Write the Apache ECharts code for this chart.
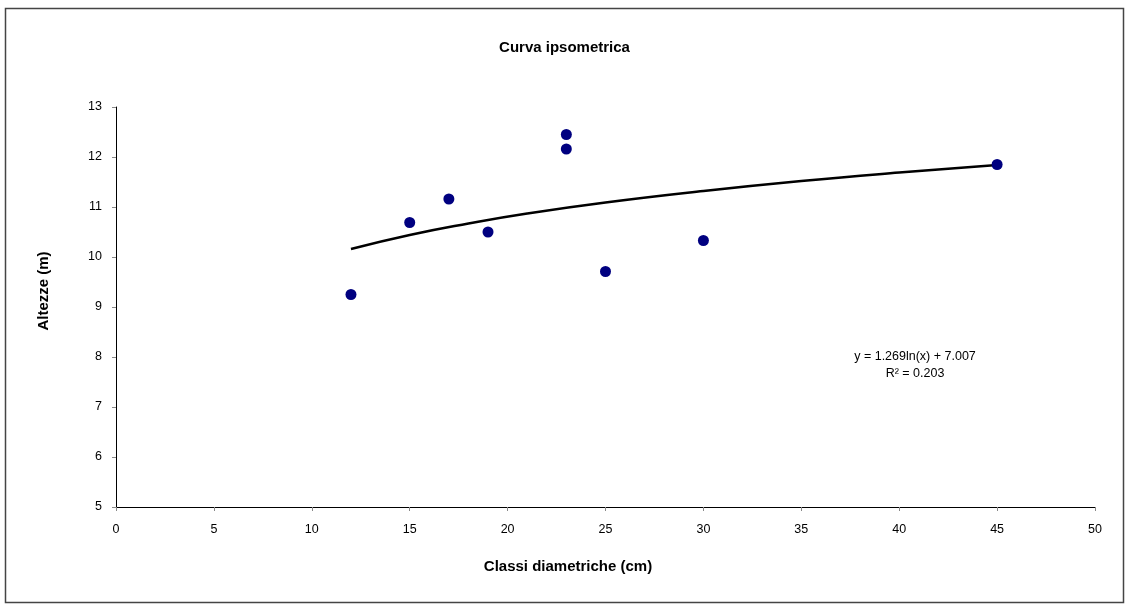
<!DOCTYPE html>
<html>
<head>
<meta charset="utf-8">
<title>Curva ipsometrica</title>
<script src="https://cdn.jsdelivr.net/npm/echarts@6/dist/echarts.min.js"></script>
<style>
    html, body { margin: 0; padding: 0; background: #fff; }
    #chart { width: 1129px; height: 609px; }
</style>
</head>
<body>
<div id="chart"></div>
<script>
    // misure (diametro cm, altezza m)
    const diametri = [12, 15, 17, 19, 23, 23, 25, 30, 45];
    const altezze = [9.25, 10.69, 11.16, 10.5, 12.45, 12.16, 9.71, 10.33, 11.85];

    // linea di tendenza logaritmica
    const trendX = [12, 15, 18, 21, 25, 30, 35, 40, 45];
    const trendY = [10.16, 10.44, 10.67, 10.87, 11.09, 11.32, 11.52, 11.69, 11.84];

    const equazione = ['y = 1.269ln(x) + 7.007', 'R² = 0.203'];

    const font = '"Liberation Sans", Arial, sans-serif';
    const myChart = echarts.init(document.getElementById('chart'));

    const option = {
        backgroundColor: '#fff',
        animation: false,
        textStyle: { fontFamily: font },
        title: {
            text: 'Curva ipsometrica',
            left: 'center',
            top: 35,
            textStyle: { fontSize: 15, fontWeight: 'bold', color: '#000', fontFamily: font },
        },
        grid: {
            left: 116,
            right: 34,
            top: 107,
            bottom: 102,
            containLabel: false,
        },
        xAxis: {
            type: 'value',
            min: 0,
            max: 50,
            interval: 5,
            axisLine: { show: true, lineStyle: { color: '#000', width: 1 } },
            axisTick: { show: true, length: 4, lineStyle: { color: '#888' } },
            axisLabel: { fontSize: 12.5, color: '#000', margin: 16, fontFamily: font },
            splitLine: { show: false },
        },
        yAxis: {
            type: 'value',
            min: 5,
            max: 13,
            interval: 1,
            axisLine: { show: true, lineStyle: { color: '#000', width: 1 } },
            axisTick: { show: true, length: 4, lineStyle: { color: '#888' } },
            axisLabel: { fontSize: 12.5, color: '#000', margin: 14, fontFamily: font },
            splitLine: { show: false },
        },
        graphic: [
            {
                type: 'rect',
                shape: { x: 5.5, y: 8.5, width: 1118, height: 594 },
                style: { fill: 'none', stroke: '#444', lineWidth: 1.5 },
                silent: true,
            },
            {
                type: 'text',
                x: 44,
                y: 291,
                rotation: Math.PI / 2,
                style: {
                    text: 'Altezze (m)',
                    font: 'bold 15px ' + font,
                    fill: '#000',
                    align: 'center',
                    verticalAlign: 'middle',
                },
            },
            {
                type: 'text',
                x: 568,
                y: 567,
                style: {
                    text: 'Classi diametriche (cm)',
                    font: 'bold 15px ' + font,
                    fill: '#000',
                    align: 'center',
                    verticalAlign: 'middle',
                },
            },
            {
                type: 'text',
                x: 915,
                y: 365,
                style: {
                    text: equazione.join('\n'),
                    font: '12.5px ' + font,
                    lineHeight: 17,
                    fill: '#000',
                    align: 'center',
                    verticalAlign: 'middle',
                },
            },
        ],
        series: [
            {
                name: 'Tendenza',
                type: 'line',
                data: trendX.map((x, i) => [x, trendY[i]]),
                smooth: true,
                showSymbol: false,
                lineStyle: { color: '#000', width: 2.5 },
                z: 2,
            },
            {
                name: 'Altezze',
                type: 'scatter',
                data: diametri.map((x, i) => [x, altezze[i]]),
                symbol: 'circle',
                symbolSize: 11,
                itemStyle: { color: '#000080', opacity: 1 },
                z: 3,
            },
        ],
    };

    option && myChart.setOption(option);
</script>
</body>
</html>
